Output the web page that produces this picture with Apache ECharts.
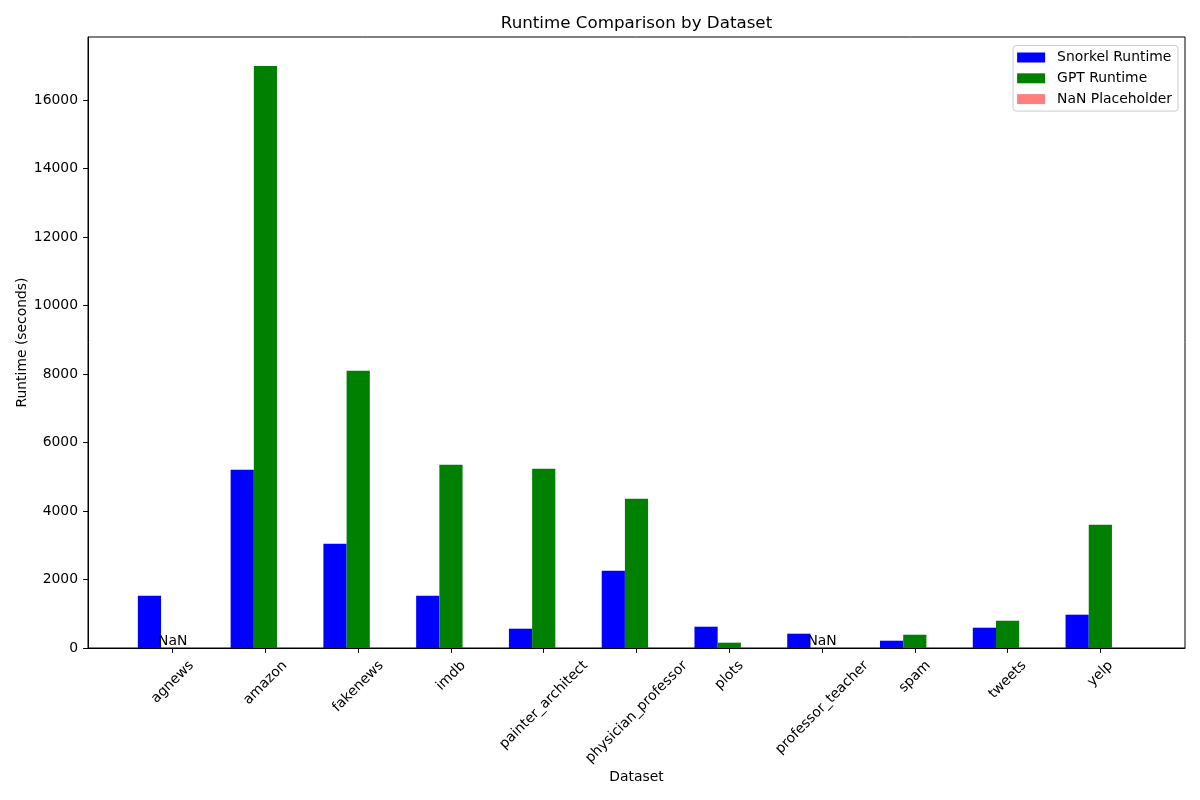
<!DOCTYPE html>
<html>
<head>
<meta charset="utf-8">
<script src="https://cdn.jsdelivr.net/npm/echarts@6/dist/echarts.min.js"></script>
<style>
  html, body { margin: 0; padding: 0; background: #fff; }
  #chart { width: 1200px; height: 800px; }
</style>
</head>
<body>
<div id="chart"></div>
<script>
// Runtime per dataset (seconds). null = NaN.
var categories = ['agnews', 'amazon', 'fakenews', 'imdb', 'painter_architect',
    'physician_professor', 'plots', 'professor_teacher', 'spam', 'tweets', 'yelp'];
var snorkelRuntime = [1527, 5206, 3045, 1527, 564, 2257, 622, 418, 213, 593, 973];
var gptRuntime = [null, 17000, 8096, 5352, 5235, 4359, 155, null, 388, 797, 3600];
var yTicks = [0, 2000, 4000, 6000, 8000, 10000, 12000, 14000, 16000];

(function() {
    var FONT = 'DejaVu Sans';
    var FS = 13.9;
    var chart = echarts.init(document.getElementById('chart'), null, { renderer: 'canvas' });

    var xTicks = categories.map(function(_, i) { return i; });

    // matplotlib centres rotated tick labels under the tick; emulate with per-label padding
    var ctx = document.createElement('canvas').getContext('2d');
    ctx.font = FS + 'px "' + FONT + '"';
    var rich = {};
    categories.forEach(function(name, i) {
        var L = ctx.measureText(name).width;
        var d = 9.7 + (L + 16) * 0.3536;
        var p = 1.414 * d;
        rich['c' + i] = { fontFamily: FONT, fontSize: FS, color: '#000', padding: [p, p, 0, 0] };
    });

    var snorkelData = snorkelRuntime.map(function(v, i) { return [i, v]; });
    var gptData = gptRuntime.map(function(v, i) {
        if (v === null) {
            return { value: [i, 0], label: { show: true, formatter: 'NaN' } };
        }
        return [i, v];
    });
    var nanData = [];
    gptRuntime.forEach(function(v, i) { if (v === null) nanData.push([i, 0]); });

    var BW = 23.2;
    var option = {
        animation: false,
        backgroundColor: '#fff',
        textStyle: { fontFamily: FONT },
        title: {
            text: 'Runtime Comparison by Dataset',
            left: 636.5,
            top: 15,
            padding: 0,
            textAlign: 'center',
            textStyle: { fontFamily: FONT, fontSize: 16.7, fontWeight: 'normal', color: '#000' }
        },
        legend: {
            orient: 'vertical',
            right: 22,
            top: 45.5,
            padding: [5, 6, 5, 4],
            itemWidth: 28,
            itemHeight: 10,
            itemGap: 6.8,
            icon: 'rect',
            backgroundColor: 'rgba(255,255,255,0.8)',
            borderColor: '#cccccc',
            borderWidth: 1,
            borderRadius: 3,
            textStyle: { fontFamily: FONT, fontSize: FS, color: '#000', lineHeight: 14, padding: [0, 0, 0, 7] },
            data: ['Snorkel Runtime', 'GPT Runtime', 'NaN Placeholder']
        },
        grid: {
            left: 88, right: 15, top: 37, bottom: 152,
            outerBoundsMode: 'none',
            containLabel: false,
            show: true, borderColor: '#000', borderWidth: 1, backgroundColor: 'transparent'
        },
        xAxis: {
            type: 'value',
            min: -0.9125,
            max: 10.9125,
            name: 'Dataset',
            nameLocation: 'middle',
            nameGap: 122,
            nameMoveOverlap: false,
            nameTextStyle: { fontFamily: FONT, fontSize: FS, color: '#000' },
            axisLine: { show: true, onZero: false, lineStyle: { color: '#000', width: 1 } },
            axisTick: { show: true, length: 4.9, lineStyle: { color: '#000' }, customValues: xTicks },
            splitLine: { show: false },
            axisLabel: {
                customValues: xTicks,
                rotate: 45,
                margin: 0,
                align: 'center',
                verticalAlign: 'middle',
                rich: rich,
                formatter: function(v) {
                    var i = Math.round(v);
                    return '{c' + i + '|' + categories[i] + '}';
                }
            }
        },
        yAxis: {
            type: 'value',
            min: 0,
            max: 17848,
            name: 'Runtime (seconds)',
            nameLocation: 'middle',
            nameGap: 59,
            nameMoveOverlap: false,
            nameTextStyle: { fontFamily: FONT, fontSize: FS, color: '#000' },
            axisLine: { show: true, onZero: false, lineStyle: { color: '#000', width: 1 } },
            axisTick: { show: true, length: 4.9, lineStyle: { color: '#000' }, customValues: yTicks },
            splitLine: { show: false },
            axisLabel: {
                customValues: yTicks,
                margin: 10,
                fontFamily: FONT,
                fontSize: FS,
                color: '#000',
                formatter: function(v) { return String(v); }
            }
        },
        series: [
            {
                name: 'Snorkel Runtime',
                type: 'bar',
                barWidth: BW,
                barGap: '0%',
                itemStyle: { color: '#0000ff' },
                data: snorkelData
            },
            {
                name: 'GPT Runtime',
                type: 'bar',
                barWidth: BW,
                barGap: '0%',
                itemStyle: { color: '#008000' },
                label: { show: false, position: 'top', distance: 0, fontFamily: FONT, fontSize: FS, color: '#000' },
                data: gptData
            },
            {
                name: 'NaN Placeholder',
                type: 'bar',
                barWidth: BW,
                barGap: '0%',
                itemStyle: { color: 'rgba(255,0,0,0.5)' },
                data: nanData
            }
        ]
    };
    chart.setOption(option);
})();
</script>
</body>
</html>
